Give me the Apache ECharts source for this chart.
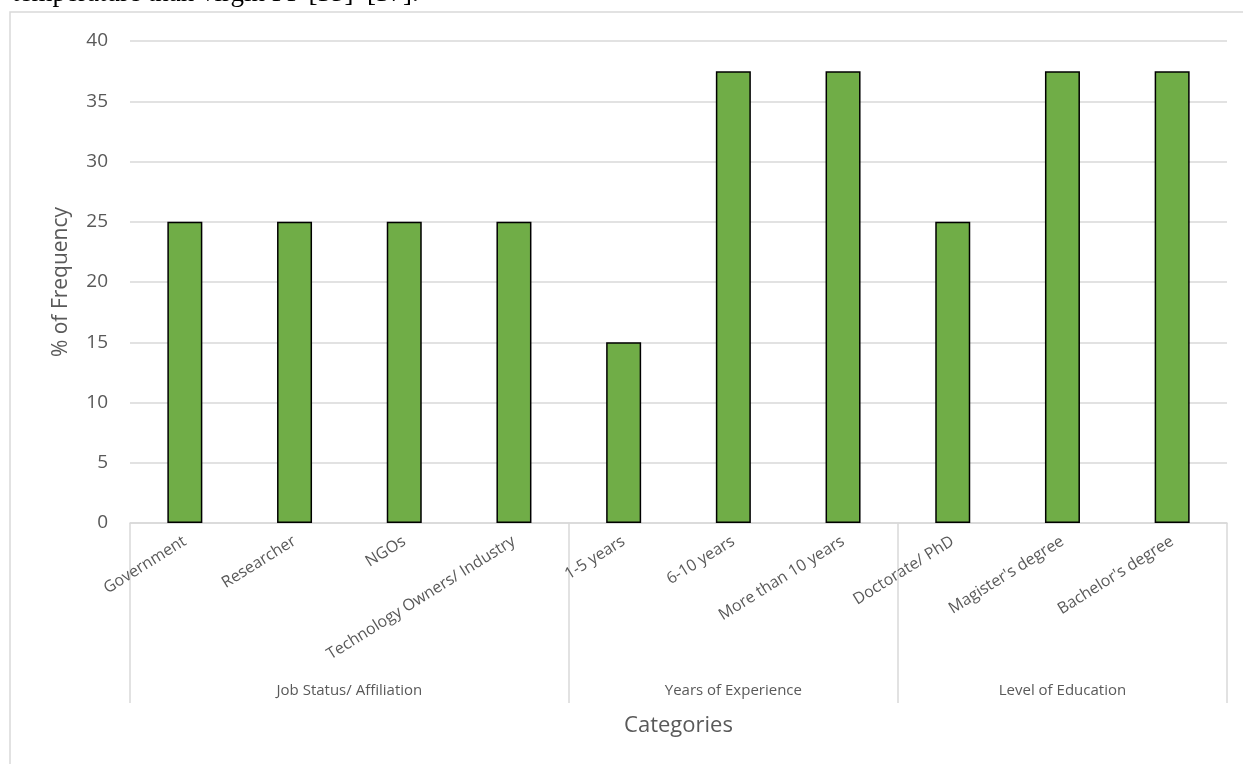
<!DOCTYPE html>
<html>
<head>
<meta charset="utf-8">
<script src="https://cdn.jsdelivr.net/npm/echarts@6/dist/echarts.min.js"></script>
<style>
  html, body { margin: 0; padding: 0; background: #fff; }
  #barChart { width: 1243px; height: 764px; }
</style>
</head>
<body>
<div id="barChart"></div>
<script>
// chart data
var categories = ['Government', 'Researcher', 'NGOs', 'Technology Owners/ Industry',
  '1-5 years', '6-10 years', 'More than 10 years',
  'Doctorate/ PhD', "Magister's degree", "Bachelor's degree"];
var frequency = [25, 25, 25, 25, 15, 37.5, 37.5, 25, 37.5, 37.5];
var groups = ['Job Status/ Affiliation', 'Years of Experience', 'Level of Education'];
var groupSizes = [4, 3, 3];
var yTicks = [0, 5, 10, 15, 20, 25, 30, 35, 40];

// group borders and centres on a 0..n scale
var groupEdges = [0];
var groupCenters = [];
groupSizes.forEach(function (n) {
  var start = groupEdges[groupEdges.length - 1];
  groupCenters.push(start + n / 2);
  groupEdges.push(start + n);
});

var font = '"Open Sans", "Noto Sans", sans-serif';
var gray = '#595959';
var lineGray = '#d9d9d9';

var myChart = echarts.init(document.getElementById('barChart'));

myChart.setOption({
  animation: false,
  textStyle: { fontFamily: font },
  grid: { left: 130, right: 16, top: 41, bottom: 241 },
  graphic: [
    {
      type: 'rect',
      shape: { x: 10, y: 12, width: 1400, height: 900 },
      style: { fill: 'none', stroke: lineGray, lineWidth: 1.5 },
      silent: true
    },
    {
      type: 'text',
      x: 12,
      y: 7,
      style: {
        text: 'temperature than virgin PP [35]\u2013[37].',
        font: '27px "Liberation Serif", serif',
        fill: '#000',
        verticalAlign: 'bottom'
      },
      silent: true
    }
  ],
  xAxis: [
    {
      type: 'category',
      data: categories,
      axisLine: { lineStyle: { color: lineGray, width: 1.5 } },
      axisTick: { show: false },
      axisLabel: { rotate: 32, color: gray, fontSize: 16, margin: 17, interval: 0 }
    },
    {
      type: 'value',
      position: 'bottom',
      min: 0,
      max: groupEdges[groupEdges.length - 1],
      axisLine: { show: false },
      splitLine: { show: false },
      axisTick: {
        show: true,
        customValues: groupEdges,
        length: 180,
        lineStyle: { color: lineGray, width: 1.5 }
      },
      axisLabel: {
        customValues: groupCenters,
        color: gray,
        fontSize: 15,
        margin: 160,
        formatter: function (v) {
          return groups[groupCenters.indexOf(v)] || '';
        }
      },
      name: 'Categories',
      nameLocation: 'middle',
      nameGap: 192,
      nameTextStyle: { color: gray, fontSize: 22 }
    }
  ],
  yAxis: {
    type: 'value',
    min: yTicks[0],
    max: yTicks[yTicks.length - 1],
    interval: 5,
    axisLine: { show: false },
    axisTick: { show: false },
    axisLabel: { color: gray, fontSize: 19, margin: 22 },
    splitLine: { lineStyle: { color: lineGray, width: 1.5 } },
    name: '% of Frequency',
    nameLocation: 'middle',
    nameGap: 58,
    nameTextStyle: { color: gray, fontSize: 21 }
  },
  series: [
    {
      name: '% of Frequency',
      type: 'bar',
      xAxisIndex: 0,
      barWidth: 35,
      data: frequency,
      itemStyle: { color: '#70ad47', borderColor: '#000', borderWidth: 1.5 }
    }
  ]
});
</script>
</body>
</html>
